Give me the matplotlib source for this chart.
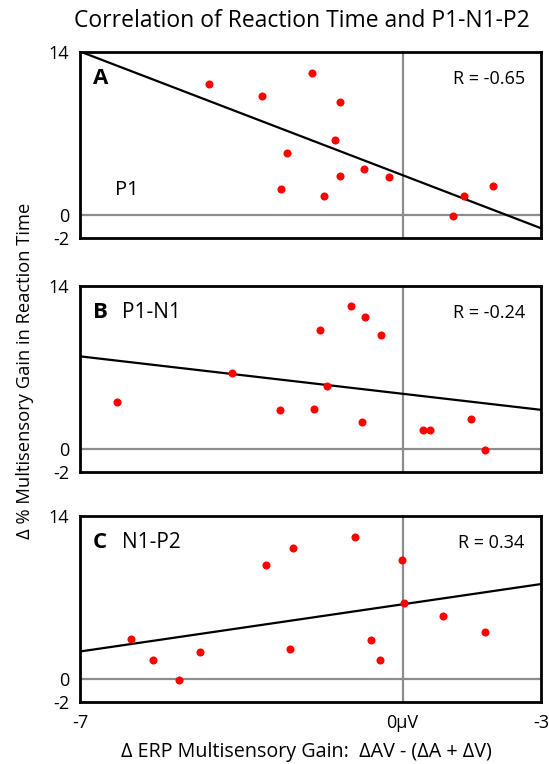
import numpy as np
import matplotlib
matplotlib.use("Agg")
import matplotlib.pyplot as plt

plt.rcParams['font.family'] = ['Open Sans', 'DejaVu Sans']

######## values ########
a_x = [-4.21, -3.06, -1.96, -1.35, -1.47, -2.50, -0.83, -1.35, -0.30, -2.64, -1.70, 1.10, 1.32, 1.95]
a_y = [11.24, 10.18, 12.19, 9.72, 6.45, 5.31, 3.96, 3.33, 3.27, 2.24, 1.58, -0.14, 1.58, 2.50]

b_x = [-6.19, -3.71, -2.67, -1.92, -1.79, -1.65, -1.13, -0.82, -0.47, -0.89, 0.45, 0.60, 1.49, 1.79]
b_y = [4.05, 6.52, 3.36, 3.45, 10.26, 5.40, 12.27, 11.33, 9.80, 2.33, 1.64, 1.64, 2.59, -0.06]

c_x = [-5.90, -5.41, -4.86, -4.39, -2.97, -2.38, -2.44, -1.03, -0.68, -0.49, -0.02, 0.02, 0.88, 1.79]
c_y = [3.42, 1.61, -0.09, 2.30, 9.74, 11.27, 2.56, 12.22, 3.33, 1.61, 10.20, 6.47, 5.38, 4.02]

# regression lines (slope, intercept)
fits = [(-1.52, 3.40), (-0.46, 4.74), (0.58, 6.40)]
r_labels = ["R = -0.65", "R = -0.24", "R = 0.34"]
letters = ["A", "B", "C"]
names = ["P1", "P1-N1", "N1-P2"]

yticks = [14, 0, -2]
xticks = [-7, 0, 3]
xticklabels = ["-7", "0\u00b5V", "-3"]
########### end of data ###########

fig = plt.figure(figsize=(5.49, 7.64), dpi=100)

left, width, height = 0.1457, 0.8397, 0.2435
bottoms = [0.6885, 0.382, 0.0812]
xs = [a_x, b_x, c_x]
ys = [a_y, b_y, c_y]

line_x = np.array([-7, 3])
for i in range(3):
    ax = fig.add_axes([left, bottoms[i], width, height])
    ax.axhline(0, color='#8c8c8c', lw=1.6, zorder=1)
    ax.axvline(0, color='#8c8c8c', lw=1.6, zorder=1)
    slope, icpt = fits[i]
    ax.plot(line_x, slope * line_x + icpt, color='black', lw=1.6, zorder=2,
            solid_capstyle='butt')
    ax.plot(xs[i], ys[i], 'o', color='#ff0000', ms=5.8, mec='none', zorder=3)
    ax.set_xlim(-7, 3)
    ax.set_ylim(-2, 14)
    ax.set_yticks(yticks)
    ax.set_yticklabels([str(t) for t in yticks], fontsize=13)
    ax.tick_params(length=0, pad=8)
    ax.set_xticks(xticks)
    if i < 2:
        ax.set_xticklabels([])
    else:
        ax.set_xticklabels(xticklabels, fontsize=13)
        ax.tick_params(axis='x', pad=9)
    for s in ax.spines.values():
        s.set_linewidth(2)
        s.set_color('black')
        s.set_zorder(4)
    ax.text(2.65, 11.7, r_labels[i], ha='right', va='center', fontsize=13)
    ax.text(-6.72, 11.7, letters[i], ha='left', va='center', fontsize=16,
            fontweight='bold')
    if i == 0:
        ax.text(-6.24, 2.15, names[i], ha='left', va='center', fontsize=14.5)
    else:
        ax.text(-6.09, 11.7, names[i], ha='left', va='center', fontsize=15)

fig.text(0.55, 0.972, "Correlation of Reaction Time and P1-N1-P2",
         ha='center', va='center', fontsize=16.5)
fig.text(0.046, 0.514, "\u0394 % Multisensory Gain in Reaction Time",
         ha='center', va='center', rotation=90, fontsize=13.2)
fig.text(0.558, 0.016, "\u0394 ERP Multisensory Gain:  \u0394AV - (\u0394A + \u0394V)",
         ha='center', va='center', fontsize=14.2)

fig.savefig("out.png", dpi=100)
